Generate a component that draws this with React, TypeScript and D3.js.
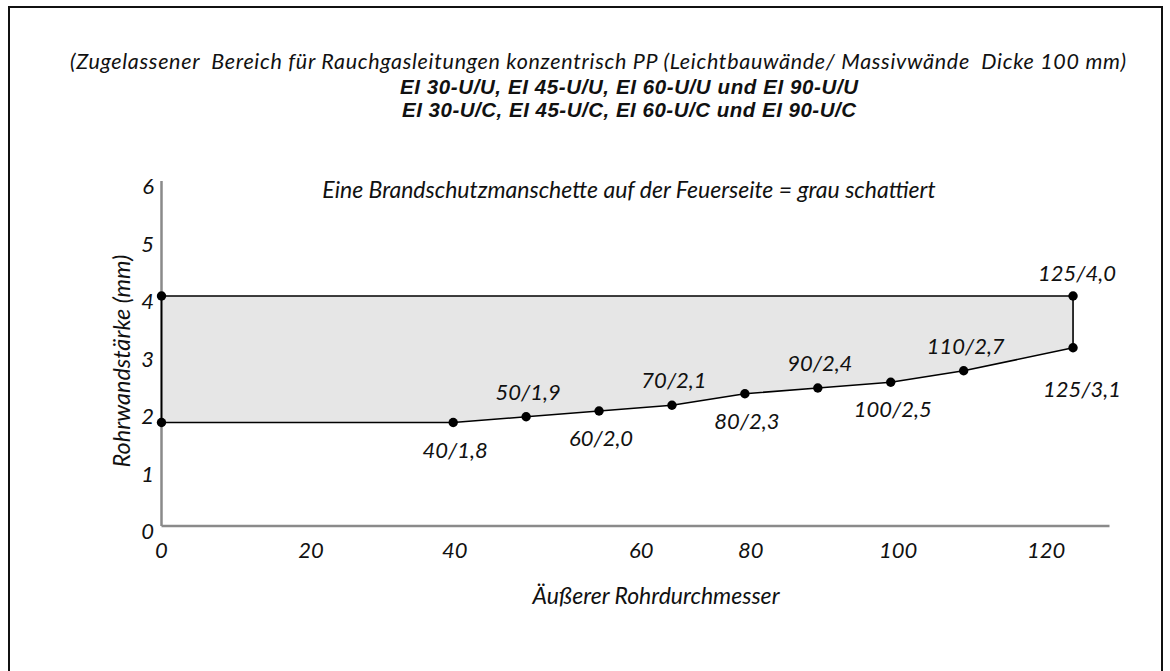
import React from 'react';
import * as d3 from 'd3';

// Outer pipe diameter and minimum wall thickness along the lower edge
const diameters = [0, 40, 50, 60, 70, 80, 90, 100, 110, 125];
const minWall = [1.8, 1.8, 1.9, 2.0, 2.1, 2.3, 2.4, 2.5, 2.7, 3.1];
// Upper edge of the approved range
const upperDiameters = [0, 125];
const upperWall = [4.0, 4.0];

const pointLabels = ['', '40/1,8', '50/1,9', '60/2,0', '70/2,1', '80/2,3', '90/2,4', '100/2,5', '110/2,7', '125/3,1'];
const labelAbove = [false, false, true, false, true, false, true, false, true, false];
const upperLabels = ['', '125/4,0'];

const yTicks = [0, 1, 2, 3, 4, 5, 6];
// x tick labels sit where the original drawing put them
const xTickLabels = ['0', '20', '40', '60', '80', '100', '120'];
const xTickAt = [0, 20.5, 40.2, 65.8, 80.8, 101, 121.3];

const titleLine = '(Zugelassener\u00a0 Bereich für Rauchgasleitungen konzentrisch PP (Leichtbauwände/ Massivwände\u00a0 Dicke 100 mm)';
const boldLines = ['EI 30-U/U, EI 45-U/U, EI 60-U/U und EI 90-U/U', 'EI 30-U/C, EI 45-U/C, EI 60-U/C und EI 90-U/C'];
const note = 'Eine Brandschutzmanschette auf der Feuerseite = grau schattiert';

const FONT = 'Lato, "Open Sans", sans-serif';

export default function App() {
  const W = 1170;
  const H = 671;
  const x = d3.scaleLinear().domain([0, 130]).range([161.5, 1109.5]);
  const y = d3.scaleLinear().domain([0, 6]).range([526, 181]);

  const lower = diameters.map((d, i) => [d, minWall[i]] as [number, number]);
  const upper = upperDiameters.map((d, i) => [d, upperWall[i]] as [number, number]);
  const poly = [...lower, ...upper.slice().reverse()];

  const line = d3.line<[number, number]>().x(d => x(d[0])).y(d => y(d[1]));
  const area = line(poly) + 'Z';

  const dots = [...lower, ...upper];

  return (
    <div style={{ position: 'absolute', left: 0, top: 0 }}>
      <svg width={W} height={H} style={{ display: 'block', fontFamily: FONT }}>
        <rect x={0} y={0} width={W} height={H} fill="#fff" />
        <rect x={9} y={7} width={1153} height={700} fill="none" stroke="#111" strokeWidth={2} />

        <g fontStyle="italic" fill="#111" textAnchor="middle">
          <text x={598} y={69} fontSize={21.5} textLength={1056} lengthAdjust="spacing">{titleLine}</text>
          {boldLines.map((t, i) => (
            <text key={i} x={629} y={94 + i * 23} fontSize={20.5} fontWeight="bold"
              fontFamily='"Liberation Sans", Arial, sans-serif'
              textLength={i === 0 ? 458 : 454} lengthAdjust="spacing">{t}</text>
          ))}
          <text x={629} y={198} fontSize={23}>{note}</text>
        </g>

        <path d={area} fill="#e6e6e6" stroke="none" />

        {/* axes */}
        <line x1={x(0)} x2={x(0)} y1={y(6)} y2={y(0)} stroke="#8a8a8a" strokeWidth={2.5} />
        <line x1={x(0)} x2={x(130)} y1={y(0)} y2={y(0)} stroke="#8a8a8a" strokeWidth={2.5} />

        <path d={area} fill="none" stroke="#000" strokeWidth={1.6} strokeLinejoin="round" />

        {dots.map((d, i) => (
          <circle key={i} cx={x(d[0])} cy={y(d[1])} r={4.7} fill="#000" />
        ))}

        <g fontStyle="italic" fill="#111" fontSize={22} textAnchor="middle">
          {lower.map((d, i) => {
            if (!pointLabels[i]) return null;
            const last = i === lower.length - 1;
            const dx = last ? 9 : 2;
            const dy = last ? 49 : labelAbove[i] ? -17 : 35;
            return (
              <text key={i} x={x(d[0]) + dx} y={y(d[1]) + dy}>{pointLabels[i]}</text>
            );
          })}
          {upper.map((d, i) => upperLabels[i] ? (
            <text key={'u' + i} x={x(d[0]) + 4} y={y(d[1]) - 15}>{upperLabels[i]}</text>
          ) : null)}
        </g>

        <g fontStyle="italic" fill="#111" fontSize={22}>
          {yTicks.map(t => (
            <text key={t} x={154} y={y(t) + 13} textAnchor="end">{t}</text>
          ))}
          {xTickLabels.map((t, i) => (
            <text key={t} x={x(xTickAt[i])} y={558} textAnchor="middle">{t}</text>
          ))}
          <text transform={`translate(130,${361}) rotate(-90)`} textAnchor="middle" fontSize={23.5}>Rohrwandstärke (mm)</text>
          <text x={656} y={604} textAnchor="middle" fontSize={23}>Äußerer Rohrdurchmesser</text>
        </g>
      </svg>
    </div>
  );
}
